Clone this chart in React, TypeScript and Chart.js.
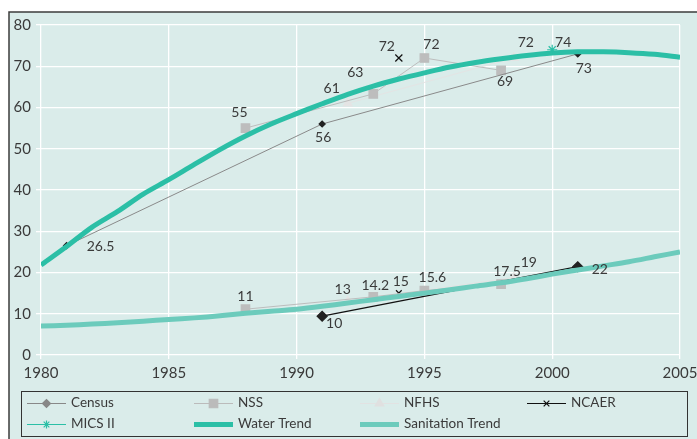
import React, { useEffect, useRef } from "react";
import { Chart, registerables } from "chart.js";
import { drawPoint } from "chart.js/helpers";

Chart.register(...registerables);

// ---------- data ----------
const trendYears = [1980, 1981, 1982, 1983, 1984, 1985, 1986, 1987, 1988, 1989, 1990, 1991, 1992, 1993, 1994, 1995, 1996, 1997, 1998, 1999, 2000, 2001, 2002, 2003, 2004, 2005];
const waterTrend = [21.8, 26.3, 31, 34.8, 39, 42.5, 46.2, 49.8, 53.1, 56, 58.5, 60.9, 63.2, 65.2, 66.9, 68.4, 69.8, 70.9, 71.8, 72.6, 73.2, 73.5, 73.5, 73.3, 72.9, 72.2];
const sanitationTrend = [7, 7.2, 7.5, 7.8, 8.2, 8.6, 9, 9.5, 10.1, 10.6, 11.1, 11.8, 12.6, 13.4, 14.2, 15, 15.8, 16.7, 17.5, 18.5, 19.6, 20.6, 21.6, 22.6, 23.8, 25];

const censusYears = [1981, 1991, 2001];
const censusWater = [26.5, 56, 73];
const censusWaterLabels = ["26.5", "56", "73"];
const censusSanYears = [1991, 2001];
const censusSan = [9.4, 21.4];
const censusSanLabels = ["10", "22"];

const nssYears = [1988, 1993, 1995, 1998];
const nssWater = [55, 63.3, 72, 69];
const nssWaterLabels = ["55", "63", "72", "69"];
const nssSan = [11.1, 14.1, 15.6, 17.2];
const nssSanLabels = ["11", "14.2", "15.6", "17.5"];

const nfhsYears = [1992, 1998.5];
const nfhsWater = [61, 72];
const nfhsWaterLabels = ["61", "72"];
const nfhsSan = [13, 18.8];
const nfhsSanLabels = ["13", "19"];

const ncaerYears = [1994];
const ncaerWater = [72];
const ncaerWaterLabels = ["72"];
const ncaerSan = [15];
const ncaerSanLabels = ["15"];

const micsYears = [2000];
const micsWater = [74];
const micsWaterLabels = ["74"];

const xTicks = [1980, 1985, 1990, 1995, 2000, 2005];
const yTicks = [0, 10, 20, 30, 40, 50, 60, 70, 80];

// ---------- styles ----------
const BG = "#daecea";
const TEXT = "#3a3a3a";
const WATER = "#2bbfa6";
const SAN = "#6ccbbc";
const FONT = "Lato, 'Open Sans', sans-serif";

// label offsets (dx, dy) in pixels from the point, per label
const censusWaterOff = [[34, 1], [1, 13], [6, 15]];
const censusSanOff = [[12, 7], [22, 3]];
const nssWaterOff = [[-6, -16], [-18, -21], [7, -14], [4, 11]];
const nssSanOff = [[0, -13], [2, -11], [8, -13], [6, -13]];
const nfhsWaterOff = [[-16, -15], [12, -16]];
const nfhsSanOff = [[-5, -12], [15, -15]];
const ncaerWaterOff = [[-12, -12]];
const ncaerSanOff = [[2, -12]];
const micsWaterOff = [[11, -7]];

const pts = (xs: number[], ys: number[]) => xs.map((x, i) => ({ x, y: ys[i] }));

type LegendItem = {
  text: string;
  color: string;
  width: number;
  point?: string;
  pointColor?: string;
  radius?: number;
};

const legendItems: LegendItem[] = [
  { text: "Census", color: "#888", width: 1, point: "rectRot", pointColor: "#888", radius: 4 },
  { text: "NSS", color: "#bbb", width: 1, point: "rect", pointColor: "#bbb", radius: 6 },
  { text: "NFHS", color: "#e2e2e2", width: 1, point: "triangle", pointColor: "#e0e0e0", radius: 5 },
  { text: "NCAER", color: "#111", width: 1, point: "crossRot", pointColor: "#111", radius: 4 },
  { text: "MICS II", color: WATER, width: 1, point: "star", pointColor: WATER, radius: 4 },
  { text: "Water Trend", color: WATER, width: 5 },
  { text: "Sanitation Trend", color: SAN, width: 5 },
];
const legendCols = [27, 194, 360, 527];
const legendRows = [403, 424];

const bgPlugin = {
  id: "bgFrame",
  beforeDraw(chart: any) {
    const { ctx, width, height } = chart;
    ctx.save();
    ctx.fillStyle = "#ffffff";
    ctx.fillRect(0, 0, width, height);
    ctx.fillStyle = BG;
    ctx.fillRect(9, 12, width - 9, height - 12);
    ctx.strokeStyle = "#3c3c3c";
    ctx.lineWidth = 1.5;
    ctx.beginPath();
    ctx.moveTo(9, height);
    ctx.lineTo(9, 12);
    ctx.lineTo(width, 12);
    ctx.stroke();
    ctx.restore();
  },
};

const labelPlugin = {
  id: "pointLabels",
  afterDatasetsDraw(chart: any) {
    const { ctx } = chart;
    ctx.save();
    ctx.font = `14px ${FONT}`;
    ctx.fillStyle = TEXT;
    ctx.textAlign = "center";
    ctx.textBaseline = "middle";
    chart.data.datasets.forEach((ds: any, i: number) => {
      if (!ds.labels) return;
      const meta = chart.getDatasetMeta(i);
      meta.data.forEach((el: any, j: number) => {
        const off = ds.labelOffsets[j];
        ctx.fillText(ds.labels[j], el.x + off[0], el.y + off[1]);
      });
    });
    ctx.restore();
  },
};

const legendPlugin = {
  id: "boxLegend",
  afterDraw(chart: any) {
    const { ctx } = chart;
    ctx.save();
    ctx.strokeStyle = "#333";
    ctx.lineWidth = 1;
    ctx.strokeRect(21.5, 391.5, 666, 45);
    ctx.font = `13.5px ${FONT}`;
    ctx.textBaseline = "middle";
    ctx.textAlign = "left";
    legendItems.forEach((it, i) => {
      const x = legendCols[i % 4];
      const y = legendRows[Math.floor(i / 4)];
      ctx.strokeStyle = it.color;
      ctx.lineWidth = it.width;
      ctx.beginPath();
      ctx.moveTo(x, y + 0.5);
      ctx.lineTo(x + 39, y + 0.5);
      ctx.stroke();
      if (it.point) {
        ctx.fillStyle = it.pointColor;
        ctx.strokeStyle = it.pointColor;
        ctx.lineWidth = 1.2;
        drawPoint(ctx, { pointStyle: it.point, radius: it.radius, borderWidth: 1.2, rotation: 0 } as any, x + 19.5, y + 0.5);
      }
      ctx.fillStyle = TEXT;
      ctx.fillText(it.text, x + 44, y);
    });
    ctx.restore();
  },
};

export default function App() {
  const ref = useRef<HTMLCanvasElement | null>(null);

  useEffect(() => {
    if (!ref.current) return;
    const markerSeries = (
      label: string,
      xs: number[],
      ys: number[],
      labels: string[],
      offs: number[][],
      color: string,
      pointStyle: string,
      radius: number,
      pointColor: string,
      lineWidth = 1
    ) => ({
      label,
      data: pts(xs, ys),
      labels,
      labelOffsets: offs,
      borderColor: color,
      borderWidth: lineWidth,
      pointStyle,
      pointRadius: radius,
      pointBackgroundColor: pointColor,
      pointBorderColor: pointColor,
      pointBorderWidth: 1.2,
      order: 2,
      tension: 0,
    });

    const chart = new Chart(ref.current, {
      type: "line",
      data: {
        datasets: [
          {
            label: "Water Trend",
            data: pts(trendYears, waterTrend),
            borderColor: WATER,
            borderWidth: 5,
            pointRadius: 0,
            order: 0,
            tension: 0.3,
          } as any,
          {
            label: "Sanitation Trend",
            data: pts(trendYears, sanitationTrend),
            borderColor: SAN,
            borderWidth: 5,
            pointRadius: 0,
            order: 0,
            tension: 0.3,
          },
          markerSeries("Census", censusYears, censusWater, censusWaterLabels, censusWaterOff, "#8a8a8a", "rectRot", 3, "#222"),
          markerSeries("Census (sanitation)", censusSanYears, censusSan, censusSanLabels, censusSanOff, "#111", "rectRot", 5, "#222", 1.3),
          markerSeries("NSS", nssYears, nssWater, nssWaterLabels, nssWaterOff, "#bdbdbd", "rect", 6, "#bdbdbd"),
          markerSeries("NSS (sanitation)", nssYears, nssSan, nssSanLabels, nssSanOff, "#bdbdbd", "rect", 6, "#bdbdbd"),
          markerSeries("NFHS", nfhsYears, nfhsWater, nfhsWaterLabels, nfhsWaterOff, "#e4e4e4", "triangle", 5, "#e4e4e4"),
          markerSeries("NFHS (sanitation)", nfhsYears, nfhsSan, nfhsSanLabels, nfhsSanOff, "#e4e4e4", "triangle", 5, "#e4e4e4"),
          markerSeries("NCAER", ncaerYears, ncaerWater, ncaerWaterLabels, ncaerWaterOff, "#111", "crossRot", 5, "#111"),
          markerSeries("NCAER (sanitation)", ncaerYears, ncaerSan, ncaerSanLabels, ncaerSanOff, "#111", "crossRot", 4, "#111"),
          { ...markerSeries("MICS II", micsYears, micsWater, micsWaterLabels, micsWaterOff, WATER, "star", 5, WATER), order: -1 },
        ] as any,
      },
      options: {
        animation: false,
        responsive: false,
        maintainAspectRatio: false,
        layout: { padding: { left: 0, right: 17, top: 25, bottom: 0 } },
        plugins: {
          legend: { display: false },
          tooltip: { enabled: false },
        },
        scales: {
          x: {
            type: "linear",
            min: 1980,
            max: 2005,
            afterBuildTicks: (s: any) => {
              s.ticks = xTicks.map((v) => ({ value: v }));
            },
            afterFit: (s: any) => {
              s.height = 84;
              s.paddingLeft = 0;
              s.paddingRight = 0;
            },
            grid: { color: "#ffffff", lineWidth: 1.3, tickLength: 4 },
            border: { display: false },
            ticks: {
              color: TEXT,
              font: { family: FONT, size: 15 },
              padding: 5,
              maxRotation: 0,
              autoSkip: false,
              callback: (v: any) => String(v),
            },
          },
          y: {
            min: 0,
            max: 80,
            afterBuildTicks: (s: any) => {
              s.ticks = yTicks.map((v) => ({ value: v }));
            },
            afterFit: (s: any) => {
              s.width = 41;
              s.paddingTop = 0;
              s.paddingBottom = 0;
            },
            grid: { color: "#ffffff", lineWidth: 1.3, tickLength: 5 },
            border: { display: false },
            ticks: {
              color: TEXT,
              font: { family: FONT, size: 15 },
              padding: 5,
              autoSkip: false,
            },
          },
        },
      } as any,
      plugins: [bgPlugin, labelPlugin, legendPlugin],
    });
    return () => chart.destroy();
  }, []);

  return (
    <div style={{ position: "absolute", left: 0, top: 0, width: 697, height: 439 }}>
      <canvas ref={ref} width={697} height={439} style={{ width: 697, height: 439, display: "block" }} />
    </div>
  );
}
